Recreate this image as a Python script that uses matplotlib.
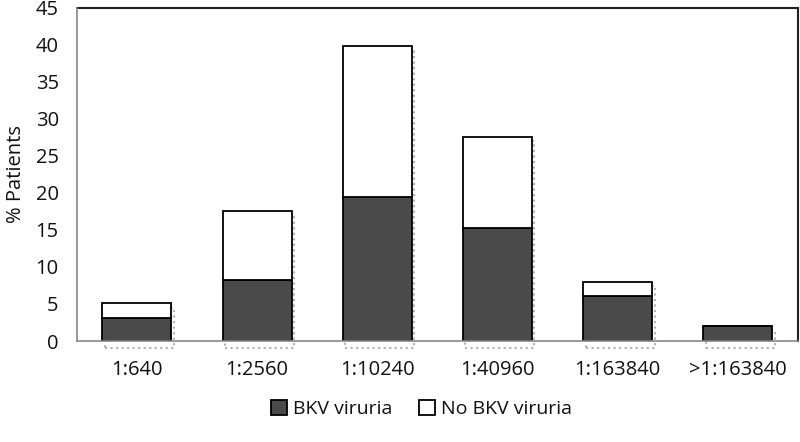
import numpy as np
import matplotlib.pyplot as plt

plt.rcParams['font.family'] = ['Open Sans', 'DejaVu Sans']

titers = ['1:640', '1:2560', '1:10240', '1:40960', '1:163840', '>1:163840']
bkv_viruria = [3.1, 8.2, 19.5, 15.3, 6.1, 2.0]
no_bkv_viruria = [2.0, 9.3, 20.4, 12.3, 1.9, 0.0]

fig = plt.figure(figsize=(8, 4.42), dpi=100)
ax = fig.add_axes([0.096, 0.2285, 0.9015, 0.7535])

x = np.arange(len(titers))
w = 0.575
totals = np.array(bkv_viruria) + np.array(no_bkv_viruria)

# faint dotted shadow like the Excel original
ax.bar(x + 0.02, totals + 0.3, w, bottom=-0.9, fill=False, edgecolor='#b0b0b0',
       linestyle=':', linewidth=1.5, zorder=2, clip_on=False)

ax.bar(x, bkv_viruria, w, color='#4a4a4a', edgecolor='black', linewidth=1.3,
       label='BKV viruria', zorder=3)
ax.bar(x, no_bkv_viruria, w, bottom=bkv_viruria, color='white', edgecolor='black',
       linewidth=1.3, label='No BKV viruria', zorder=3)

ax.set_xlim(-0.5, len(titers) - 0.5)
ax.set_ylim(0, 45)
ax.set_yticks(range(0, 46, 5))
ax.set_xticks(x)
ax.set_xticklabels(titers)
ax.tick_params(axis='both', length=0, labelsize=14.5, colors='#111111')
ax.tick_params(axis='y', pad=13)
ax.tick_params(axis='x', pad=14)
ax.set_ylabel('% Patients', fontsize=14.5, color='#111111', labelpad=7)

for s in ['top', 'right']:
    ax.spines[s].set_color('#222222')
    ax.spines[s].set_linewidth(1.5)
for s in ['left', 'bottom']:
    ax.spines[s].set_color('#888888')
    ax.spines[s].set_linewidth(1.2)
    ax.spines[s].set_zorder(4)

ax.legend(loc='center', bbox_to_anchor=(0.478, -0.205), ncol=2, frameon=False,
          fontsize=14, handlelength=0.8, handleheight=0.8, handletextpad=0.3,
          columnspacing=1.4, labelcolor='#111111')

fig.savefig('out.png', dpi=100)
